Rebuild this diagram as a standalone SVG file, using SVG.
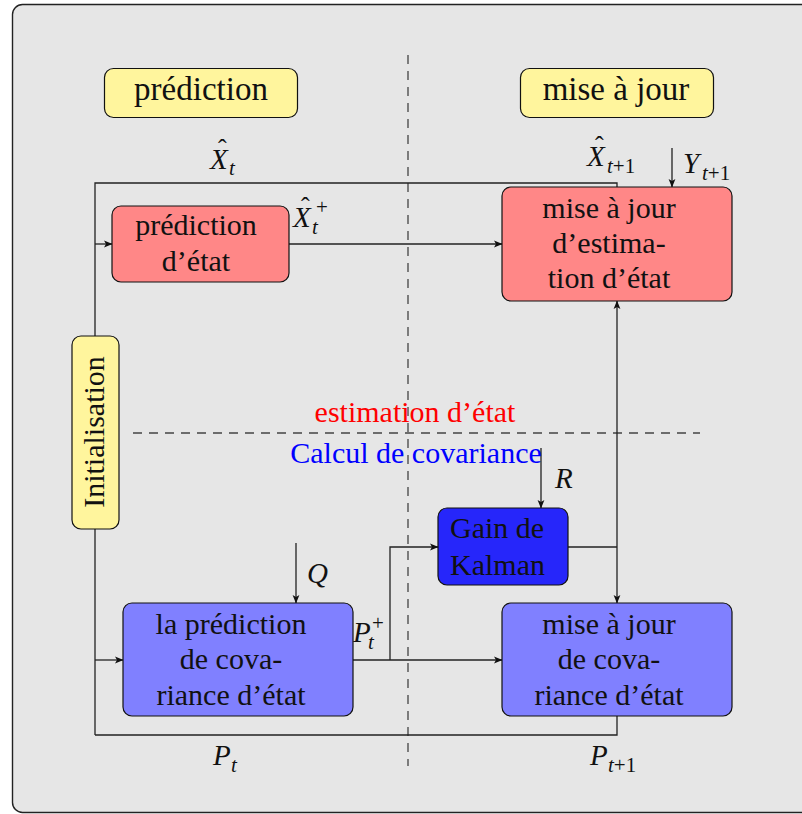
<svg xmlns="http://www.w3.org/2000/svg" width="802" height="814" viewBox="0 0 802 814">
<defs>
<marker id="ah" markerWidth="10" markerHeight="8" refX="8" refY="4" orient="auto" markerUnits="userSpaceOnUse">
<path d="M0,0.6 L8.5,4 L0,7.4 L2,4 Z" fill="#111"/>
</marker>
</defs>
<rect x="12.5" y="4.5" width="800" height="808" rx="10" fill="#e6e6e6" stroke="#222" stroke-width="1.4"/>

<g id="dividers" fill="none" stroke="#444" stroke-width="1.3" stroke-dasharray="9 7">
<line x1="408" y1="55" x2="408" y2="766"/>
<line x1="133" y1="433" x2="700" y2="433"/>
</g>

<g id="connectors" fill="none" stroke="#222" stroke-width="1.3">
<polyline points="95,336 95,183 617,183 617,187"/>
<line x1="95" y1="529" x2="95" y2="735"/>
<polyline points="95,735 617,735 617,716"/>
<line x1="568" y1="547" x2="617" y2="547"/>
<g marker-end="url(#ah)">
<line x1="95" y1="244" x2="112" y2="244"/>
<line x1="289" y1="244" x2="502" y2="244"/>
<line x1="672" y1="148" x2="672" y2="187"/>
<line x1="95" y1="660" x2="123" y2="660"/>
<line x1="296" y1="543" x2="296" y2="603"/>
<line x1="541" y1="448" x2="541" y2="508"/>
<line x1="353" y1="660" x2="502" y2="660"/>
<polyline points="390,660 390,547 438,547"/>
<line x1="617" y1="547" x2="617" y2="301"/>
<line x1="617" y1="547" x2="617" y2="603"/>
</g>
</g>

<g id="labels" font-family="Liberation Serif" fill="#111" font-size="29" font-style="italic">
<text x="210" y="169">X<tspan x="218" y="157" font-style="normal" font-size="26">&#710;</tspan><tspan x="229" y="175" font-size="21">t</tspan></text>
<text x="293" y="227">X<tspan x="301" y="215" font-style="normal" font-size="26">&#710;</tspan><tspan x="312" y="234" font-size="21">t</tspan><tspan x="316" y="214" font-style="normal" font-size="21">+</tspan></text>
<text x="587" y="166">X<tspan x="595" y="154" font-style="normal" font-size="26">&#710;</tspan><tspan x="607" y="173" font-size="21">t</tspan><tspan font-style="normal" font-size="21">+1</tspan></text>
<text x="683" y="173">Y<tspan x="702" y="180" font-size="21">t</tspan><tspan font-style="normal" font-size="21">+1</tspan></text>
<text x="555" y="488">R</text>
<text x="307" y="583">Q</text>
<text x="353" y="642">P<tspan x="368" y="649" font-size="21">t</tspan><tspan x="372" y="630" font-style="normal" font-size="21">+</tspan></text>
<text x="213" y="765">P<tspan x="231" y="772" font-size="21">t</tspan></text>
<text x="590" y="765">P<tspan x="608" y="772" font-size="21">t</tspan><tspan font-style="normal" font-size="21">+1</tspan></text>
<text x="415" y="422" font-size="30" font-style="normal" text-anchor="middle" fill="#ff0000">estimation d&#8217;&#233;tat</text>
<text x="416" y="463" font-size="30" font-style="normal" text-anchor="middle" fill="#0000ff">Calcul de covariance</text>
</g>

<g id="n-prediction" font-family="Liberation Serif" fill="#111">
<rect x="104.5" y="68.5" width="193" height="49" rx="9" fill="#fff59d" stroke="#111" stroke-width="1.2"/>
<text x="201" y="100" font-size="33" text-anchor="middle">pr&#233;diction</text>
</g>
<g id="n-miseajour" font-family="Liberation Serif" fill="#111">
<rect x="520.5" y="68.5" width="193" height="49" rx="9" fill="#fff59d" stroke="#111" stroke-width="1.2"/>
<text x="616" y="100" font-size="33" text-anchor="middle">mise &#224; jour</text>
</g>
<g id="n-init" font-family="Liberation Serif" fill="#111">
<rect x="72" y="336" width="47" height="193" rx="9" fill="#fff59d" stroke="#111" stroke-width="1.2"/>
<text transform="translate(104,432) rotate(-90)" x="0" y="0" font-size="30" text-anchor="middle">Initialisation</text>
</g>
<g id="n-pred-etat" font-family="Liberation Serif" fill="#111" font-size="30" text-anchor="middle">
<rect x="112" y="206" width="177" height="76" rx="9" fill="#ff8787" stroke="#111" stroke-width="1.2"/>
<text x="196" y="235">pr&#233;diction</text>
<text x="196" y="271">d&#8217;&#233;tat</text>
</g>
<g id="n-maj-etat" font-family="Liberation Serif" fill="#111" font-size="30" text-anchor="middle">
<rect x="502" y="187" width="230" height="114" rx="9" fill="#ff8787" stroke="#111" stroke-width="1.2"/>
<text x="609" y="218">mise &#224; jour</text>
<text x="609" y="253">d&#8217;estima-</text>
<text x="609" y="288">tion d&#8217;&#233;tat</text>
</g>
<g id="n-gain" font-family="Liberation Serif" fill="#111" font-size="30">
<rect x="438" y="508" width="130" height="77" rx="9" fill="#2626fa" stroke="#111" stroke-width="1.2"/>
<text x="450" y="538">Gain de</text>
<text x="450" y="575">Kalman</text>
</g>
<g id="n-pred-cov" font-family="Liberation Serif" fill="#111" font-size="30" text-anchor="middle">
<rect x="123" y="603" width="230" height="113" rx="9" fill="#8080ff" stroke="#111" stroke-width="1.2"/>
<text x="231" y="634">la pr&#233;diction</text>
<text x="231" y="669">de cova-</text>
<text x="231" y="705">riance d&#8217;&#233;tat</text>
</g>
<g id="n-maj-cov" font-family="Liberation Serif" fill="#111" font-size="30" text-anchor="middle">
<rect x="502" y="603" width="230" height="113" rx="9" fill="#8080ff" stroke="#111" stroke-width="1.2"/>
<text x="609" y="634">mise &#224; jour</text>
<text x="609" y="669">de cova-</text>
<text x="609" y="705">riance d&#8217;&#233;tat</text>
</g>
</svg>
